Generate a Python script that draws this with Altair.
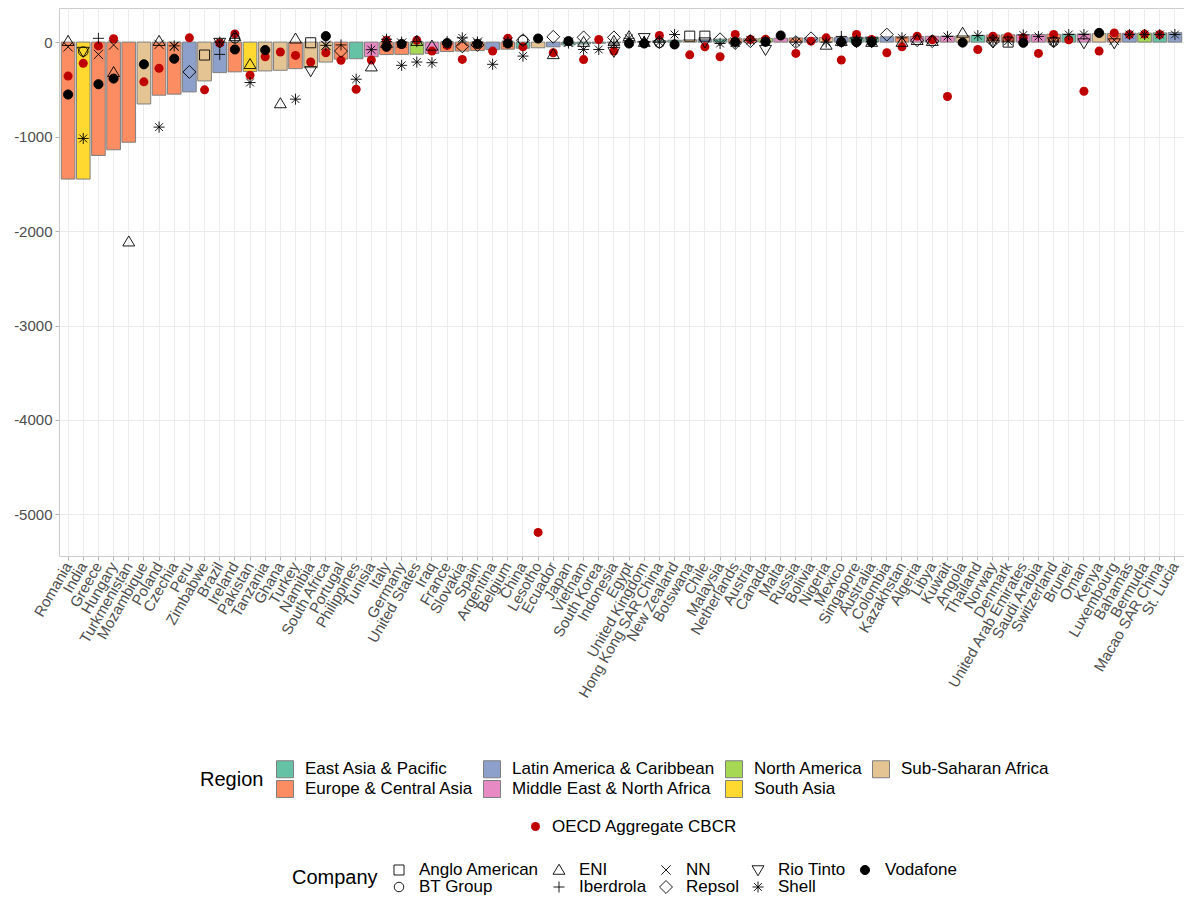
import altair as alt
import pandas as pd

COUNTRIES = ["Romania", "India", "Greece", "Hungary", "Turkmenistan", "Mozambique", "Poland", "Czechia",
             "Peru", "Zimbabwe", "Brazil", "Ireland", "Pakistan", "Tanzania", "Ghana", "Turkey", "Namibia",
             "South Africa", "Portugal", "Philippines", "Tunisia", "Italy", "Germany", "United States", "Iraq",
             "France", "Slovakia", "Spain", "Argentina", "Belgium", "China", "Lesotho", "Ecuador", "Japan",
             "Vietnam", "South Korea", "Indonesia", "Egypt", "United Kingdom", "Hong Kong SAR China",
             "New Zealand", "Botswana", "Chile", "Malaysia", "Netherlands", "Austria", "Canada", "Malta",
             "Russia", "Bolivia", "Nigeria", "Mexico", "Singapore", "Australia", "Colombia", "Kazakhstan",
             "Algeria", "Libya", "Kuwait", "Angola", "Thailand", "Norway", "Denmark", "United Arab Emirates",
             "Saudi Arabia", "Switzerland", "Brunei", "Oman", "Kenya", "Luxembourg", "Bahamas", "Bermuda",
             "Macao SAR China", "St. Lucia"]

REGION_CODES = ["ECA", "SA", "ECA", "ECA", "ECA", "SSA", "ECA", "ECA", "LAC", "SSA", "LAC", "ECA", "SA",
                "SSA", "SSA", "ECA", "SSA", "SSA", "ECA", "EAP", "MNA", "ECA", "ECA", "NA", "MNA", "ECA",
                "ECA", "ECA", "LAC", "ECA", "EAP", "SSA", "LAC", "EAP", "EAP", "EAP", "EAP", "MNA", "ECA",
                "EAP", "EAP", "SSA", "LAC", "EAP", "ECA", "ECA", "NA", "MNA", "ECA", "LAC", "SSA", "LAC",
                "EAP", "EAP", "LAC", "ECA", "MNA", "MNA", "MNA", "SSA", "EAP", "ECA", "ECA", "MNA", "MNA",
                "ECA", "EAP", "MNA", "SSA", "ECA", "LAC", "NA", "EAP", "LAC"]

BAR_VALUES = [-1450, -1450, -1200, -1140, -1060, -655, -562, -551, -527, -411, -323, -315, -310, -305,
              -298, -281, -271, -211, -180, -176, -155, -132, -130, -128, -120, -100, -95, -90, -80, -75,
              -65, -60, -50, -30, -20, -12, -5, 2, 8, 15, 20, 25, 30, 32, 35, 37, 40, 42, 44, 46, 48, 50,
              52, 54, 56, 58, 60, 62, 64, 68, 72, 75, 77, 79, 81, 83, 85, 87, 90, 92, 94, 96, 98, 100]

REGION_NAMES = {"EAP": "East Asia & Pacific", "ECA": "Europe & Central Asia",
                "LAC": "Latin America & Caribbean", "MNA": "Middle East & North Africa",
                "NA": "North America", "SA": "South Asia", "SSA": "Sub-Saharan Africa"}
REGION_COLORS = {"EAP": "#66C2A5", "ECA": "#FC8D62", "LAC": "#8DA0CB", "MNA": "#E78AC3",
                 "NA": "#A6D854", "SA": "#FFD92F", "SSA": "#E5C494"}
REGION_LEGEND_ORDER = ["EAP", "LAC", "NA", "SSA", "ECA", "MNA", "SA"]

OECD = {"Romania": -360, "India": -225, "Greece": -40, "Hungary": 35, "Mozambique": -421, "Poland": -278,
        "Peru": 45, "Zimbabwe": -505, "Brazil": -10, "Ireland": 87, "Pakistan": -351, "Tanzania": -155,
        "Ghana": -105, "Turkey": -141, "Namibia": -211, "South Africa": -113, "Portugal": -193,
        "Philippines": -499, "Tunisia": -190, "Italy": 20, "Germany": -25, "United States": 20, "Iraq": -95,
        "France": -35, "Slovakia": -183, "Spain": -20, "Argentina": -95, "Belgium": 40, "China": -50,
        "Lesotho": -5190, "Ecuador": -113, "Vietnam": -185, "South Korea": 28, "Indonesia": -95,
        "Hong Kong SAR China": 70, "Botswana": -135, "Chile": -50, "Malaysia": -155, "Netherlands": 80,
        "Austria": 28, "Canada": 30, "Russia": -120, "Bolivia": 10, "Nigeria": 45, "Mexico": -190,
        "Singapore": 80, "Australia": 28, "Colombia": -113, "Kazakhstan": -50, "Algeria": 63, "Libya": 25,
        "Kuwait": -576, "Thailand": -78, "Norway": 63, "Denmark": 57, "United Arab Emirates": 45,
        "Saudi Arabia": -120, "Switzerland": 80, "Brunei": 25, "Oman": -520, "Kenya": -95,
        "Luxembourg": 97, "Bahamas": 80, "Bermuda": 85, "Macao SAR China": 80}

ANGLO_AMERICAN = {"Zimbabwe": -137, "Namibia": -7, "Botswana": 63, "Chile": 63, "Denmark": 0}
BT_GROUP = {"India": -100, "Ireland": 40, "China": 20, "Hong Kong SAR China": -10, "Switzerland": 5,
            "Singapore": 5}
ENI = {"Romania": 10, "Hungary": -320, "Turkmenistan": -2113, "Poland": 10, "Ireland": 60,
       "Pakistan": -235, "Ghana": -650, "Turkey": 35, "Tunisia": -260, "Italy": -10, "United States": 10,
       "Iraq": -40, "Ecuador": -130, "Egypt": 60, "Nigeria": -30, "Kazakhstan": 0, "Angola": 97,
       "Mexico": 10, "Algeria": 20, "Libya": 10, "Indonesia": 10, "United Kingdom": 0, "Australia": 0,
       "Vietnam": 0}
IBERDROLA = {"Greece": 40, "Brazil": -130, "Portugal": -30, "Germany": 0, "United States": 5, "Spain": 0,
             "Mexico": 60, "Belgium": 10, "United Kingdom": 5, "Italy": 5, "France": 5, "Australia": 5,
             "Ireland": 40}
NN = {"Romania": -50, "Greece": -130, "Hungary": -30, "Poland": -25, "Czechia": -45, "South Africa": -35,
      "Spain": 0, "Belgium": 0, "Slovakia": 10, "Netherlands": 0, "Germany": -10, "Luxembourg": 20,
      "Japan": 0}
REPSOL = {"Peru": -316, "Portugal": -95, "Slovakia": -45, "Spain": -30, "China": 20, "Ecuador": 56,
          "Vietnam": 50, "Indonesia": 50, "Hong Kong SAR China": 0, "Malaysia": 30, "Netherlands": -10,
          "Austria": 10, "Bolivia": 40, "Colombia": 80, "Algeria": 20, "Libya": 10, "Norway": 10,
          "Russia": 0}
RIO_TINTO = {"India": -100, "Brazil": -5, "Namibia": -305, "Indonesia": -100, "United Kingdom": 45,
             "Canada": -80, "Australia": 0, "Norway": 0, "Oman": -10, "Luxembourg": -10, "Switzerland": 0,
             "Singapore": 0, "Chile": 0}
SHELL = {"India": -1020, "Poland": -900, "Czechia": -40, "Pakistan": -428, "Turkey": -604,
         "South Africa": -35, "Philippines": -393, "Tunisia": -80, "Italy": 30, "Germany": -246,
         "United States": -211, "Iraq": -218, "France": -20, "Slovakia": 45, "Spain": -10,
         "Argentina": -235, "China": -148, "Japan": -10, "Vietnam": -78, "South Korea": -78,
         "Indonesia": -20, "Egypt": 40, "United Kingdom": 0, "New Zealand": 80, "Malaysia": -15,
         "Netherlands": -10, "Austria": 20, "Russia": 0, "Nigeria": 0, "Singapore": 20, "Australia": 10,
         "Kazakhstan": 45, "Kuwait": 60, "Thailand": 70, "Denmark": 10, "United Arab Emirates": 75,
         "Saudi Arabia": 60, "Switzerland": 10, "Brunei": 80, "Oman": 80, "Bahamas": 80, "Bermuda": 80,
         "Macao SAR China": 80, "St. Lucia": 80, "Hong Kong SAR China": 0, "Mexico": 0, "Canada": 10,
         "Norway": 20, "Brazil": 0}
VODAFONE = {"Romania": -555, "Greece": -446, "Hungary": -386, "Mozambique": -235, "Czechia": -176,
            "Ireland": -78, "Tanzania": -84, "South Africa": 63, "Italy": -50, "Germany": -20, "France": -10,
            "Spain": -20, "Belgium": -15, "Lesotho": 38, "Japan": 10, "Egypt": -15, "United Kingdom": -15,
            "New Zealand": -25, "Netherlands": 0, "Canada": 3, "Malta": 70, "Mexico": 0, "Singapore": 0,
            "Australia": 0, "Angola": -5, "United Arab Emirates": -7, "Kenya": 97}

COMPANY_DATA = {"Anglo American": ANGLO_AMERICAN, "BT Group": BT_GROUP, "ENI": ENI,
                "Iberdrola": IBERDROLA, "NN": NN, "Repsol": REPSOL, "Rio Tinto": RIO_TINTO,
                "Shell": SHELL, "Vodafone": VODAFONE}
COMPANY_LEGEND_ORDER = ["Anglo American", "ENI", "NN", "Rio Tinto", "Vodafone",
                        "BT Group", "Iberdrola", "Repsol", "Shell"]
COMPANY_SHAPES = {
    "Anglo American": "M-0.59,-0.59L0.59,-0.59L0.59,0.59L-0.59,0.59Z",
    "BT Group": "M0.56,0A0.56,0.56,0,1,1,-0.56,0A0.56,0.56,0,1,1,0.56,0Z",
    "ENI": "M0,-0.68L0.7,0.5L-0.7,0.5Z",
    "Iberdrola": "M-0.65,0L0.65,0M0,-0.65L0,0.65",
    "NN": "M-0.55,-0.55L0.55,0.55M-0.55,0.55L0.55,-0.55",
    "Repsol": "M0,-0.76L0.76,0L0,0.76L-0.76,0Z",
    "Rio Tinto": "M0,0.68L0.7,-0.5L-0.7,-0.5Z",
    "Shell": "M-0.65,0L0.65,0M0,-0.65L0,0.65M-0.46,-0.46L0.46,0.46M-0.46,0.46L0.46,-0.46",
    "Vodafone": "M0.54,0A0.54,0.54,0,1,1,-0.54,0A0.54,0.54,0,1,1,0.54,0Z",
}
COMPANY_FILLS = {c: ("black" if c == "Vodafone" else "transparent") for c in COMPANY_LEGEND_ORDER}

assert len(COUNTRIES) == len(REGION_CODES) == len(BAR_VALUES)

bars_df = pd.DataFrame({"Country": COUNTRIES,
                        "Region": [REGION_NAMES[r] for r in REGION_CODES],
                        "Value": BAR_VALUES})
oecd_df = pd.DataFrame({"Country": list(OECD.keys()), "Value": list(OECD.values()),
                        "Series": "OECD Aggregate CBCR"})
comp_rows = []
for comp, vals in COMPANY_DATA.items():
    for c, v in vals.items():
        comp_rows.append({"Country": c, "Company": comp, "Value": v})
comp_df = pd.DataFrame(comp_rows)

FONT = "Liberation Sans"

x_enc = alt.X("Country:N", sort=COUNTRIES,
              scale=alt.Scale(paddingInner=0.1, paddingOuter=0.15),
              axis=alt.Axis(title=None, labelAngle=-60, labelAlign="right", labelBaseline="middle",
                            labelFontSize=15, labelColor="#4D4D4D", labelPadding=3, labelLimit=300,
                            tickColor="#B3B3B3", tickSize=4, domain=False, grid=True,
                            gridColor="#EBEBEB", gridWidth=1, labelOverlap=False))
y_enc = alt.Y("Value:Q", scale=alt.Scale(domain=[-5440, 361], nice=False),
              axis=alt.Axis(title=None, values=[-5000, -4000, -3000, -2000, -1000, 0],
                            labelExpr="'' + datum.value", labelFontSize=15, labelColor="#4D4D4D",
                            labelPadding=3, tickColor="#B3B3B3", tickSize=4, domain=False, grid=True,
                            gridColor="#EBEBEB", gridWidth=1))

region_legend = alt.Legend(title="Region", orient="none", legendX=141, legendY=752, columns=4,
                           direction="horizontal", titleOrient="left", titleAnchor="middle",
                           titleBaseline="middle", titleFontSize=20, titleFontWeight="normal",
                           titleColor="black", titlePadding=12, labelFontSize=17, labelColor="black",
                           labelLimit=400, labelOffset=11, columnPadding=7, rowPadding=-3,
                           symbolType="square", symbolSize=289, symbolStrokeColor="#7F7F7F",
                           symbolStrokeWidth=1, symbolOpacity=1)
bars = alt.Chart(bars_df).mark_bar(stroke="#7F7F7F", strokeWidth=1, opacity=1).encode(
    x=x_enc, y=y_enc,
    fill=alt.Fill("Region:N",
                  scale=alt.Scale(domain=[REGION_NAMES[r] for r in REGION_LEGEND_ORDER],
                                  range=[REGION_COLORS[r] for r in REGION_LEGEND_ORDER]),
                  legend=region_legend))

oecd_legend = alt.Legend(title=None, orient="none", legendX=468, legendY=810, labelFontSize=17,
                         labelColor="black", labelLimit=400, labelOffset=8, symbolType="circle",
                         symbolSize=81, symbolOpacity=1, symbolStrokeWidth=0)
oecd = alt.Chart(oecd_df).mark_circle(size=81, opacity=1).encode(
    x=alt.X("Country:N", sort=COUNTRIES), y="Value:Q",
    color=alt.Color("Series:N", scale=alt.Scale(domain=["OECD Aggregate CBCR"], range=["#BF0000"]),
                    legend=oecd_legend))

company_legend = alt.Legend(title="Company", orient="none", legendX=233, legendY=853, columns=5,
                            direction="horizontal", titleOrient="left", titleAnchor="middle",
                            titleBaseline="middle", titleFontSize=20, titleFontWeight="normal",
                            titleColor="black", titlePadding=12, labelFontSize=17, labelColor="black",
                            labelLimit=400, labelOffset=11, columnPadding=10, rowPadding=-3,
                            symbolSize=289, symbolStrokeColor="black", symbolStrokeWidth=0.9,
                            symbolOpacity=1)
company_scale_domain = COMPANY_LEGEND_ORDER
companies = alt.Chart(comp_df).mark_point(size=289, filled=True, strokeWidth=0.9, opacity=1).encode(
    x=alt.X("Country:N", sort=COUNTRIES), y="Value:Q",
    shape=alt.Shape("Company:N",
                    scale=alt.Scale(domain=company_scale_domain,
                                    range=[COMPANY_SHAPES[c] for c in COMPANY_LEGEND_ORDER]),
                    legend=company_legend),
    fill=alt.Fill("Company:N",
                  scale=alt.Scale(domain=company_scale_domain,
                                  range=[COMPANY_FILLS[c] for c in COMPANY_LEGEND_ORDER]),
                  legend=company_legend),
    stroke=alt.Stroke("Company:N",
                      scale=alt.Scale(domain=company_scale_domain,
                                      range=["black"] * len(COMPANY_LEGEND_ORDER)),
                      legend=company_legend))

chart = alt.layer(bars, oecd, companies).resolve_scale(
    fill="independent", shape="independent", color="independent", stroke="independent"
).properties(
    width=1125, height=548, autosize="none",
    padding={"left": 51, "top": 0, "right": 0, "bottom": 345}
).configure(font=FONT).configure_view(stroke="#CCCCCC", strokeWidth=1)

chart.save("out.html", embed_options={"renderer": "svg", "actions": False})
